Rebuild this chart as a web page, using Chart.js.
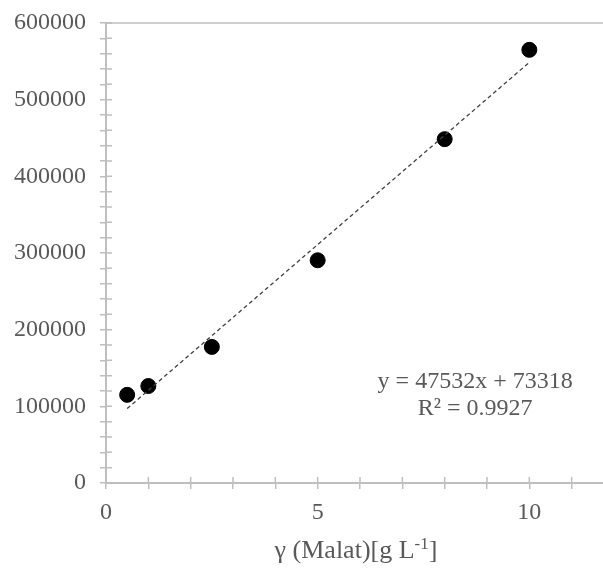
<!DOCTYPE html>
<html>
<head>
<meta charset="utf-8">
<script src="https://cdn.jsdelivr.net/npm/chart.js@4.4.1/dist/chart.umd.min.js"></script>
<style>
  html, body { margin: 0; padding: 0; background: #ffffff; overflow: hidden; }
  #wrap { position: relative; width: 630px; height: 568px; }
</style>
</head>
<body>
<div id="wrap"><canvas id="c"></canvas></div>
<script>
// ---- Data ----
const concentrations = [0.5, 1, 2.5, 5, 8, 10];                 // γ (Malat) [g L-1]
const signals = [115000, 126500, 177500, 290500, 448500, 565000];  // response
const trendSlope = 47532;
const trendIntercept = 73318;
const trendRange = [0.5, 10];
const equationLines = ['y = 47532x + 73318', 'R² = 0.9927'];
const xTickLabels = [0, 5, 10];
const yTickLabels = [0, 100000, 200000, 300000, 400000, 500000, 600000];
const xAxisTitleParts = ['γ (Malat)[g L', '-1', ']'];   // middle part is a superscript

const TEXT = '#595959';
const AXIS = '#bfbfbf';
const FONT = '"Liberation Serif", "Times New Roman", serif';

const points = concentrations.map((x, i) => ({ x: x, y: signals[i] }));
const trend = trendRange.map(x => ({ x: x, y: trendSlope * x + trendIntercept }));

const excelTicks = {
  id: 'excelTicks',
  beforeDatasetsDraw(chart) {
    const ctx = chart.ctx;
    const area = chart.chartArea;
    const xs = chart.scales.x, ys = chart.scales.y;
    ctx.save();
    ctx.strokeStyle = AXIS;
    ctx.lineWidth = 1.5;
    ctx.beginPath();
    ctx.moveTo(area.left, area.top);
    ctx.lineTo(area.right, area.top);
    ctx.stroke();
    ctx.beginPath();
    ys.ticks.forEach(t => {
      const py = ys.getPixelForValue(t.value);
      ctx.moveTo(area.left, py);
      ctx.lineTo(area.left + 6, py);
    });
    xs.ticks.forEach(t => {
      const px = xs.getPixelForValue(t.value);
      ctx.moveTo(px, area.bottom);
      ctx.lineTo(px, area.bottom - 6);
    });
    ctx.stroke();
    ctx.restore();
  },
  afterDatasetsDraw(chart) {
    const ctx = chart.ctx;
    const xs = chart.scales.x, ys = chart.scales.y;
    ctx.save();
    ctx.fillStyle = TEXT;
    ctx.font = '24px ' + FONT;
    ctx.textAlign = 'center';
    ctx.textBaseline = 'middle';
    const cx = xs.getPixelForValue(8.72);
    ctx.fillText(equationLines[0], cx, ys.getPixelForValue(131500));
    ctx.fillText(equationLines[1], cx, ys.getPixelForValue(97500));

    // x axis title with superscript
    const big = '26px ' + FONT, small = '17px ' + FONT;
    ctx.textAlign = 'left';
    ctx.textBaseline = 'alphabetic';
    ctx.font = big;
    const w0 = ctx.measureText(xAxisTitleParts[0]).width;
    const w2 = ctx.measureText(xAxisTitleParts[2]).width;
    ctx.font = small;
    const w1 = ctx.measureText(xAxisTitleParts[1]).width;
    const total = w0 + w1 + w2;
    const centerX = (xs.left + xs.right) / 2 - 4;
    const baseY = xs.bottom - 10;
    let x = centerX - total / 2;
    ctx.font = big;
    ctx.fillText(xAxisTitleParts[0], x, baseY);
    x += w0;
    ctx.font = small;
    ctx.fillText(xAxisTitleParts[1], x, baseY - 9);
    x += w1;
    ctx.font = big;
    ctx.fillText(xAxisTitleParts[2], x, baseY);
    ctx.restore();
  }
};

new Chart(document.getElementById('c'), {
  type: 'scatter',
  data: {
    datasets: [
      {
        type: 'line',
        data: trend,
        borderColor: '#404040',
        borderWidth: 1.3,
        borderDash: [4, 3],
        pointRadius: 0,
        fill: false,
        order: 0
      },
      {
        data: points,
        backgroundColor: '#000000',
        borderColor: '#000000',
        pointRadius: 7.5,
        pointHoverRadius: 7.5,
        order: 1
      }
    ]
  },
  options: {
    responsive: true,
    maintainAspectRatio: false,
    animation: false,
    events: [],
    layout: { padding: { left: 0, right: 16, top: 23, bottom: 0 } },
    plugins: {
      legend: { display: false },
      tooltip: { enabled: false }
    },
    scales: {
      x: {
        type: 'linear',
        min: 0,
        max: 12,
        afterFit: s => { s.height = 85; s.paddingLeft = 0; s.paddingRight = 0; },
        ticks: {
          stepSize: 1,
          autoSkip: false,
          maxRotation: 0,
          padding: 9,
          color: TEXT,
          font: { family: FONT, size: 24 },
          callback: v => xTickLabels.includes(v) ? String(v) : ''
        },
        grid: { drawOnChartArea: false, drawTicks: true, tickLength: 6, color: AXIS, lineWidth: 1.5 },
        border: { color: AXIS, width: 2 },
        title: { display: false }
      },
      y: {
        type: 'linear',
        min: 0,
        max: 600000,
        afterFit: s => { s.width = 106; s.paddingTop = 0; s.paddingBottom = 0; },
        ticks: {
          stepSize: 20000,
          autoSkip: false,
          padding: 14,
          color: TEXT,
          font: { family: FONT, size: 24 },
          callback: v => yTickLabels.includes(v) ? String(v) : ''
        },
        grid: { drawOnChartArea: false, drawTicks: true, tickLength: 6, color: AXIS, lineWidth: 1.5 },
        border: { color: AXIS, width: 2 }
      }
    }
  },
  plugins: [excelTicks]
});
</script>
</body>
</html>
